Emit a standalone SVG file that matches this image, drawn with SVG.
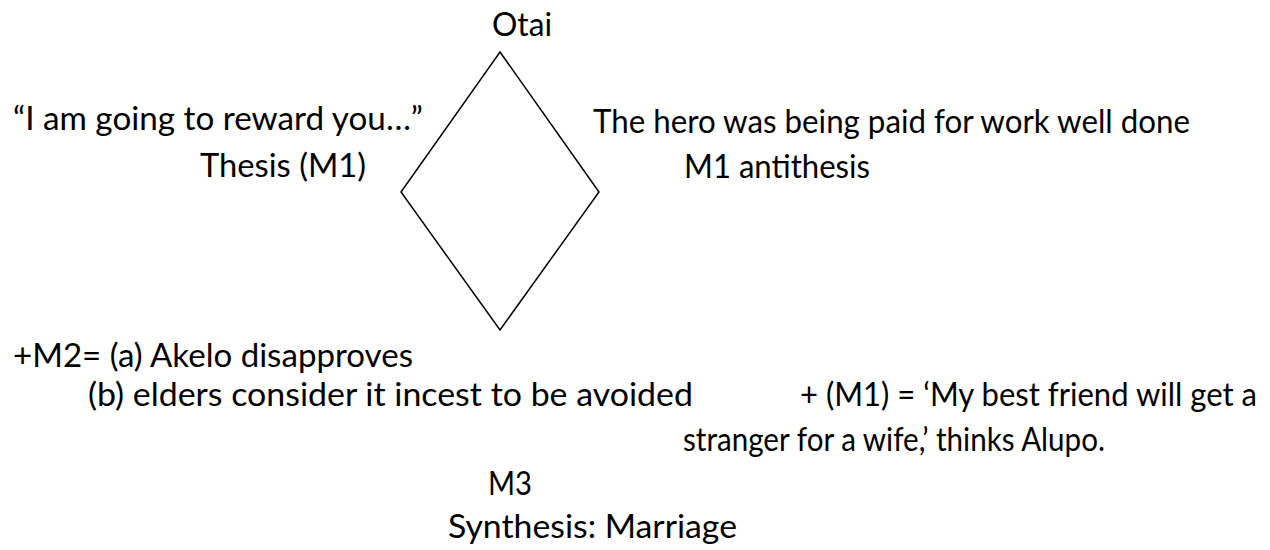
<svg xmlns="http://www.w3.org/2000/svg" width="1270" height="550" viewBox="0 0 1270 550">
<style>
text{font-family:Lato,"Open Sans","Liberation Sans",sans-serif;font-size:32px;fill:#000}
.shape{fill:none;stroke:#000;stroke-width:1.5}
</style>
<rect width="1270" height="550" fill="#fff"/>
<g id="diamond">
<polygon class="shape" points="500,52 599,192 500,330 401,192"/>
</g>
<g id="connectors"></g>
<g id="otai"><text x="492" y="36" textLength="60" lengthAdjust="spacingAndGlyphs">Otai</text></g>
<g id="thesis">
<text x="13" y="130" textLength="410" lengthAdjust="spacingAndGlyphs">“I am going to reward you…”</text>
<text x="200" y="177" textLength="166" lengthAdjust="spacingAndGlyphs">Thesis (M1)</text>
</g>
<g id="antithesis">
<text x="593" y="133" textLength="597" lengthAdjust="spacingAndGlyphs">The hero was being paid for work well done</text>
<text x="684" y="178" textLength="186" lengthAdjust="spacingAndGlyphs">M1 antithesis</text>
</g>
<g id="m2">
<text x="13" y="367" textLength="400" lengthAdjust="spacingAndGlyphs">+M2= (a) Akelo disapproves</text>
<text x="88" y="406" textLength="605" lengthAdjust="spacingAndGlyphs">(b) elders consider it incest to be avoided</text>
</g>
<g id="m1b">
<text x="800" y="406" textLength="457" lengthAdjust="spacingAndGlyphs">+ (M1) = ‘My best friend will get a</text>
<text x="683" y="451" textLength="422" lengthAdjust="spacingAndGlyphs">stranger for a wife,’ thinks Alupo.</text>
</g>
<g id="synthesis">
<text x="488" y="495" textLength="44" lengthAdjust="spacingAndGlyphs">M3</text>
<text x="448" y="538" textLength="289" lengthAdjust="spacingAndGlyphs">Synthesis: Marriage</text>
</g>
</svg>
